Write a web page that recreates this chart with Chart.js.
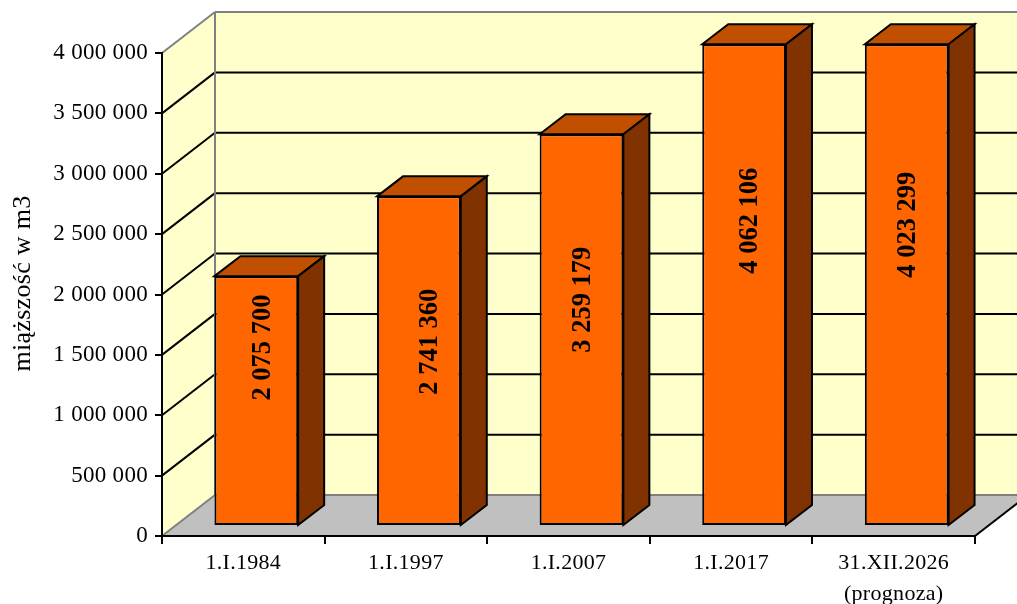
<!DOCTYPE html>
<html>
<head>
<meta charset="utf-8">
<script src="https://cdn.jsdelivr.net/npm/chart.js@4"></script>
<style>
  body { margin: 0; background: #fff; }
  canvas { display: block; }
</style>
</head>
<body>
<canvas id="chart" width="1017" height="604"></canvas>
<script>
// Values
const categories = ["1.I.1984", "1.I.1997", "1.I.2007", "1.I.2017", ["31.XII.2026", "(prognoza)"]];
const volumes = [2075700, 2741360, 3259179, 4062106, 4023299];
const yTitle = "miąższość w m3";
const yTickStep = 500000;
const yMax = 4000000;

// Bars taller than the axis are cut off just under the ceiling
const barCeiling = 4010000;

// Hand placed value labels in the original: shift from bar centre, px
const labelLift = [53, 19, 30, 64, 60];
const labelNudge = [7, 11, 2, 6, 1];

// 3D look: depth of the box, of each bar, and where bars stand inside the box
const wallDx = 53, wallDy = -41;
const barDx = 26, barDy = -20;
const standDx = 13, standDy = -11;

const WALL = "#ffffcc", FLOOR = "#c0c0c0", EDGE = "#808080";
const BAR = "#ff6600", BAR_TOP = "#c05000", BAR_SIDE = "#803300";
const SERIF = "'Liberation Serif', 'Times New Roman', serif";

function poly(ctx, pts, fill, stroke, width) {
  ctx.beginPath();
  pts.forEach((p, i) => i ? ctx.lineTo(p[0], p[1]) : ctx.moveTo(p[0], p[1]));
  ctx.closePath();
  if (fill) { ctx.fillStyle = fill; ctx.fill(); }
  if (stroke) { ctx.strokeStyle = stroke; ctx.lineWidth = width; ctx.lineJoin = "miter"; ctx.stroke(); }
}

function line(ctx, x1, y1, x2, y2, color, width) {
  ctx.beginPath();
  ctx.moveTo(x1, y1);
  ctx.lineTo(x2, y2);
  ctx.strokeStyle = color;
  ctx.lineWidth = width;
  ctx.stroke();
}

const box3d = {
  id: "box3d",
  // Walls and floor go under the axes
  beforeDraw(chart) {
    const { ctx, chartArea: a, scales } = chart;
    ctx.letterSpacing = "0.3px";
    const y0 = a.bottom, yT = a.top;
    const bx = a.left + wallDx, by = wallDy;
    ctx.save();
    poly(ctx, [[a.left, y0], [a.left, yT], [bx, yT + by], [bx, y0 + by]], WALL);
    poly(ctx, [[bx, yT + by], [a.right + wallDx, yT + by], [a.right + wallDx, y0 + by], [bx, y0 + by]], WALL);
    poly(ctx, [[a.left, y0], [bx, y0 + by], [a.right + wallDx, y0 + by], [a.right, y0]], FLOOR);
    scales.y.ticks.forEach(t => {
      const py = scales.y.getPixelForValue(t.value);
      if (t.value === 0) return;
      const c = t.value === yMax ? EDGE : "#000";
      line(ctx, a.left, py, bx, py + by, c, 2);
      line(ctx, bx, py + by, a.right + wallDx, py + by, c, 2);
    });
    line(ctx, bx, yT + by, bx, y0 + by, EDGE, 2);
    line(ctx, a.left, y0, bx, y0 + by, EDGE, 2);
    line(ctx, bx, y0 + by, a.right + wallDx, y0 + by, EDGE, 2);
    line(ctx, a.right, y0, a.right + wallDx, y0 + by, "#000", 2);
    ctx.restore();
  },
  // Bars are pushed into the box; top and side faces hang off each bar element
  beforeDatasetDraw(chart, args) {
    const { ctx } = chart;
    ctx.save();
    ctx.translate(standDx, standDy);
    args.meta.data.forEach(el => {
      const l = el.x - el.width / 2, r = el.x + el.width / 2;
      poly(ctx, [[l, el.y], [l + barDx, el.y + barDy], [r + barDx, el.y + barDy], [r, el.y]], BAR_TOP, "#000", 2);
      poly(ctx, [[r, el.y], [r + barDx, el.y + barDy], [r + barDx, el.base + barDy], [r, el.base]], BAR_SIDE, "#000", 2);
    });
  },
  afterDatasetDraw(chart, args) {
    const { ctx } = chart;
    args.meta.data.forEach((el, i) => {
      ctx.save();
      ctx.translate(el.x + labelNudge[i], (el.y + el.base) / 2 - labelLift[i]);
      ctx.rotate(-Math.PI / 2);
      ctx.letterSpacing = "0px";
      ctx.font = "bold 26.5px " + SERIF;
      ctx.fillStyle = "#000";
      ctx.textAlign = "center";
      ctx.textBaseline = "middle";
      ctx.fillText(formatNumber(volumes[i]), 0, 0);
      ctx.restore();
    });
    ctx.restore();
  },
  // Axis title sits a little above the middle of the axis in the original
  afterDraw(chart) {
    const { ctx } = chart;
    ctx.save();
    ctx.translate(23, 283.5);
    ctx.rotate(-Math.PI / 2);
    ctx.font = "26px " + SERIF;
    ctx.fillStyle = "#000";
    ctx.textAlign = "center";
    ctx.textBaseline = "middle";
    ctx.fillText(yTitle, 0, 0);
    ctx.restore();
  }
};

function formatNumber(v) {
  return String(v).replace(/\B(?=(\d{3})+$)/g, " ");
}

new Chart(document.getElementById("chart"), {
  type: "bar",
  plugins: [box3d],
  data: {
    labels: categories,
    datasets: [{
      data: volumes.map(v => Math.min(v, barCeiling)),
      yAxisID: "yBar",
      backgroundColor: BAR,
      borderColor: "#000",
      borderWidth: 2,
      borderSkipped: false,
      categoryPercentage: 1,
      barPercentage: 0.515,
      clip: false
    }]
  },
  options: {
    responsive: false,
    animation: false,
    layout: { padding: { left: 12, top: 53, right: 42, bottom: 0 } },
    plugins: { legend: { display: false }, tooltip: { enabled: false } },
    scales: {
      x: {
        grid: { drawOnChartArea: false, color: "#000", lineWidth: 2, tickLength: 8 },
        border: { color: "#000", width: 2 },
        ticks: { color: "#000", maxRotation: 0, padding: 4, font: { family: SERIF, size: 22, lineHeight: 1.4 } },
        afterFit(s) { s.height = 68; }
      },
      y: {
        min: 0,
        max: yMax,
        grid: { drawOnChartArea: false, color: "#000", lineWidth: 2, tickLength: 7 },
        border: { color: "#000", width: 2 },
        ticks: {
          stepSize: yTickStep,
          color: "#000",
          padding: 7,
          font: { family: SERIF, size: 23 },
          callback: v => formatNumber(v)
        },
        afterFit(s) { s.width = 150; }
      },
      // Bars in the original run on a slightly flatter scale than the printed axis
      yBar: { display: false, min: 0, max: 4029000 }
    }
  }
});
</script>
</body>
</html>
